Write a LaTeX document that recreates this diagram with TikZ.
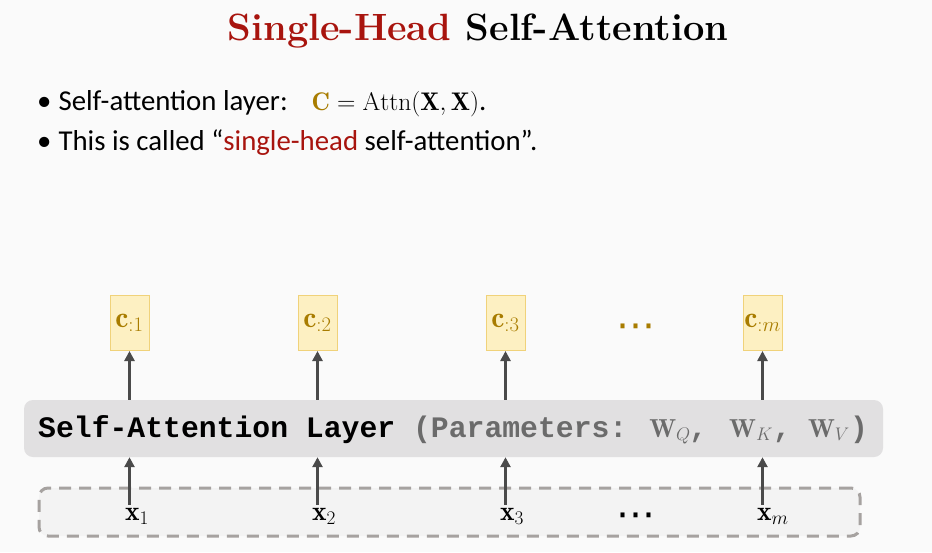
\RequirePackage{fix-cm}
\documentclass[tikz,border=0pt]{standalone}
\usepackage{amsmath}
\usepackage{fontspec}
\newfontfamily\bodyfont{Carlito}
\newfontfamily\codefont{Liberation Mono}
\newfontfamily\dotfont{DejaVu Sans}
\usetikzlibrary{arrows.meta}
\definecolor{bgc}{HTML}{FAFAFA}
\definecolor{titlered}{HTML}{A8140E}
\definecolor{gold}{HTML}{A87C00}
\definecolor{cfill}{HTML}{FDF0C2}
\definecolor{cdraw}{HTML}{F0D27A}
\definecolor{layerfill}{HTML}{E1E0E1}
\definecolor{paramgray}{HTML}{6B6B6B}
\definecolor{arrowc}{HTML}{4A4A4A}
\definecolor{dashc}{HTML}{A6A2A0}
\definecolor{dashfill}{HTML}{F3F3F3}
\newcommand{\wmat}[2]{\makebox[#2][l]{\fontsize{26}{28}\selectfont$\mathbf{W}_{#1}$}}
\tikzset{
  cbox/.style={draw=cdraw, fill=cfill, line width=1pt, minimum width=39pt, minimum height=55pt, inner sep=0pt,
    text=gold, font=\fontsize{29.5}{32}\selectfont},
  arr/.style={draw=arrowc, line width=2.6pt, -{Triangle[length=10pt,width=10pt]}},
  layerbox/.style={fill=layerfill, rounded corners=9pt, minimum width=859pt, minimum height=57pt, inner sep=0pt},
  dbox/.style={draw=dashc, fill=dashfill, line width=3pt, dash pattern=on 12pt off 8pt, rounded corners=9pt,
    minimum width=821pt, minimum height=48pt, inner sep=0pt},
  xlab/.style={anchor=base west, inner sep=0pt, outer sep=3pt, font=\fontsize{27.5}{30}\selectfont},
  dotsn/.style={anchor=base, inner sep=0pt, font=\dotfont\fontsize{39}{39}\selectfont},
  bullet/.style={anchor=base west, inner sep=0pt, font=\bodyfont\fontsize{28.8}{33}\selectfont},
}
\begin{document}
\begin{tikzpicture}[x=1pt,y=-1pt]
\fill[bgc] (0,0) rectangle (932,552);
\useasboundingbox (0,0) rectangle (932,552);

\node[anchor=base, inner sep=0pt, font=\fontsize{38}{44}\selectfont\bfseries] (title) at (478,40)
  {\textcolor{titlered}{Single-Head} Self-Attention};

\node[bullet] (b1) at (37,110) {•\hspace{7pt}Self-attention layer:\hspace{24pt}{\fontsize{25.5}{30}\selectfont$\textcolor{gold}{\mathbf{C}} = \mathrm{Attn}(\mathbf{X},\mathbf{X})$}.};
\node[bullet] (b2) at (37,150) {•\hspace{7pt}This is called “\textcolor{titlered}{single-head} self-attention”.};

% output boxes
\node[cbox] (c1) at (129.5,323) {$\mathbf{c}_{:1}$};
\node[cbox] (c2) at (317.5,323) {$\mathbf{c}_{:2}$};
\node[cbox] (c3) at (505.5,323) {$\mathbf{c}_{:3}$};
\node[cbox] (cm) at (762.5,323) {$\mathbf{c}_{:m}$};
\node[dotsn, text=gold] (cdots) at (636,338) {⋯};

% layer
\node[layerbox] (layer) at (453.5,428.5) {};
\node[anchor=base west, inner sep=0pt, font=\codefont\bfseries\fontsize{29.75}{34}\selectfont] (ltext) at (38,437)
  {Self-Attention Layer \textcolor{paramgray}{(Parameters:\makebox[22pt]{}\wmat{Q}{40pt},\makebox[22pt]{}\wmat{K}{44pt},\makebox[17pt]{}\wmat{V}{42pt})}};

% inputs
\node[dbox] (inbox) at (449.5,512) {};
\node[xlab] (x1) at (122,520) {$\mathbf{x}_1$};
\node[xlab] (x2) at (309,520) {$\mathbf{x}_2$};
\node[xlab] (x3) at (497,520) {$\mathbf{x}_3$};
\node[xlab] (xm) at (754,520) {$\mathbf{x}_m$};
\node[dotsn] (xdots) at (636,527) {⋯};

% arrows
\foreach \c/\x in {c1/x1,c2/x2,c3/x3,cm/xm}{
  \draw[arr] (\c |- \x.north) -- (\c |- layer.south);
  \draw[arr] (\c |- layer.north) -- (\c.south);
}
\end{tikzpicture}
\end{document}
